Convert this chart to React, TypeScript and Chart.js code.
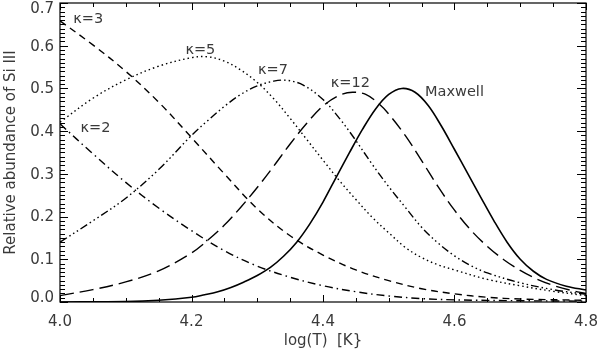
import React, { useEffect, useRef } from 'react';
import { Chart, registerables } from 'chart.js';

Chart.register(...registerables);

// ---- data (log T, relative abundance of Si III) ----
const kappa2X = [4.0, 4.05, 4.1, 4.15, 4.2, 4.25, 4.3, 4.35, 4.4, 4.45, 4.5, 4.55, 4.6, 4.7, 4.8];
const kappa2Y = [0.417, 0.347, 0.28, 0.22, 0.167, 0.12, 0.084, 0.058, 0.038, 0.024, 0.014, 0.008, 0.005, 0.003, 0.002];

const kappa3X = [4.0, 4.05, 4.1, 4.15, 4.2, 4.25, 4.3, 4.35, 4.4, 4.45, 4.5, 4.55, 4.6, 4.65, 4.7, 4.8];
const kappa3Y = [0.658, 0.602, 0.54, 0.468, 0.385, 0.3, 0.218, 0.155, 0.11, 0.075, 0.05, 0.031, 0.019, 0.011, 0.007, 0.004];

const kappa5X = [4.0, 4.05, 4.1, 4.15, 4.2, 4.225, 4.25, 4.275, 4.3, 4.325, 4.35, 4.375, 4.4, 4.425, 4.45, 4.475, 4.5, 4.525, 4.55, 4.575, 4.6, 4.65, 4.7, 4.75, 4.8];
const kappa5Y = [0.421, 0.477, 0.52, 0.552, 0.572, 0.574, 0.564, 0.543, 0.514, 0.476, 0.43, 0.381, 0.332, 0.284, 0.24, 0.198, 0.162, 0.128, 0.104, 0.087, 0.075, 0.053, 0.038, 0.025, 0.015];

const kappa7X = [4.0, 4.05, 4.1, 4.15, 4.2, 4.225, 4.25, 4.275, 4.3, 4.325, 4.345, 4.37, 4.4, 4.425, 4.45, 4.475, 4.5, 4.525, 4.55, 4.575, 4.6, 4.625, 4.65, 4.7, 4.75, 4.8];
const kappa7Y = [0.14, 0.19, 0.243, 0.31, 0.39, 0.425, 0.458, 0.486, 0.506, 0.517, 0.519, 0.508, 0.474, 0.43, 0.378, 0.322, 0.27, 0.222, 0.175, 0.138, 0.108, 0.085, 0.068, 0.045, 0.029, 0.018];

const kappa12X = [4.0, 4.05, 4.1, 4.15, 4.2, 4.225, 4.25, 4.275, 4.3, 4.325, 4.35, 4.375, 4.4, 4.425, 4.445, 4.465, 4.485, 4.5, 4.525, 4.55, 4.575, 4.6, 4.625, 4.65, 4.675, 4.7, 4.725, 4.75, 4.775, 4.8];
const kappa12Y = [0.015, 0.029, 0.047, 0.073, 0.115, 0.145, 0.18, 0.222, 0.268, 0.318, 0.37, 0.418, 0.459, 0.484, 0.491, 0.486, 0.464, 0.44, 0.39, 0.331, 0.27, 0.215, 0.168, 0.13, 0.099, 0.074, 0.054, 0.039, 0.028, 0.02];

const maxwellX = [4.0, 4.1, 4.15, 4.2, 4.22, 4.24, 4.26, 4.28, 4.3, 4.32, 4.34, 4.36, 4.38, 4.4, 4.42, 4.44, 4.46, 4.48, 4.5, 4.52, 4.54, 4.56, 4.58, 4.6, 4.62, 4.64, 4.66, 4.68, 4.7, 4.72, 4.74, 4.77, 4.8];
const maxwellY = [0.0, 0.001, 0.004, 0.011, 0.017, 0.024, 0.034, 0.047, 0.062, 0.081, 0.107, 0.14, 0.183, 0.234, 0.292, 0.349, 0.404, 0.452, 0.486, 0.5, 0.491, 0.46, 0.412, 0.357, 0.301, 0.245, 0.19, 0.14, 0.1, 0.072, 0.053, 0.037, 0.028];

// ---- curve labels (data coordinates) ----
const curveLabelText = ['κ=3', 'κ=2', 'κ=5', 'κ=7', 'κ=12', 'Maxwell'];
const curveLabelX = [4.043, 4.054, 4.2135, 4.324, 4.4415, 4.6];
const curveLabelY = [0.661, 0.407, 0.589, 0.542, 0.511, 0.492];

// ---- axes ----
const xMajorTicks = [4.0, 4.2, 4.4, 4.6, 4.8];
const xTickLabels = ['4.0', '4.2', '4.4', '4.6', '4.8'];
const yMajorTicks = [0.0, 0.1, 0.2, 0.3, 0.4, 0.5, 0.6, 0.7];
const yTickLabels = ['0.0', '0.1', '0.2', '0.3', '0.4', '0.5', '0.6', '0.7'];
const xMinorStep = 0.05;
const yMinorStep = 0.01;
const xTitle = 'log(T)  [K}';
const yTitle = 'Relative abundance of Si III';

const zip = (xs: number[], ys: number[]) => xs.map((x, i) => ({ x, y: ys[i] }));

const FONT = '"DejaVu Sans", sans-serif';
const TEXT = '#3a3a3a';

const axesPlugin = {
  id: 'idlAxes',
  afterDatasetsDraw(chart: any) {
    const { ctx, chartArea } = chart;
    const { left, right, top, bottom } = chartArea;
    const xs = chart.scales.x;
    const ys = chart.scales.y;
    ctx.save();
    // frame
    ctx.strokeStyle = '#000';
    ctx.lineWidth = 1.2;
    ctx.strokeRect(left, top, right - left, bottom - top);

    ctx.lineWidth = 1;
    ctx.beginPath();
    // x ticks (bottom + top)
    const nx = Math.round((xs.max - xs.min) / xMinorStep);
    for (let i = 0; i <= nx; i++) {
      const v = xs.min + i * xMinorStep;
      const px = Math.round(xs.getPixelForValue(v)) + 0.5;
      const major = xMajorTicks.some((t) => Math.abs(t - v) < 1e-6);
      const len = major ? 7 : 4;
      ctx.moveTo(px, bottom);
      ctx.lineTo(px, bottom - len);
      ctx.moveTo(px, top);
      ctx.lineTo(px, top + len);
    }
    // y ticks (left + right)
    const ny = Math.round((ys.max - ys.min) / yMinorStep);
    for (let i = 0; i <= ny; i++) {
      const v = ys.min + i * yMinorStep;
      const py = Math.round(ys.getPixelForValue(v)) + 0.5;
      const major = yMajorTicks.some((t) => Math.abs(t - v) < 1e-6);
      const lenL = major ? 8 : 5;
      const lenR = major ? 9 : 5;
      ctx.moveTo(left, py);
      ctx.lineTo(left + lenL, py);
      ctx.moveTo(right, py);
      ctx.lineTo(right - lenR, py);
    }
    ctx.stroke();

    // tick labels
    ctx.fillStyle = TEXT;
    ctx.font = `15px ${FONT}`;
    ctx.textAlign = 'center';
    ctx.textBaseline = 'middle';
    xMajorTicks.forEach((v, i) => {
      ctx.fillText(xTickLabels[i], xs.getPixelForValue(v), bottom + 20);
    });
    ctx.textAlign = 'right';
    yMajorTicks.forEach((v, i) => {
      let py = ys.getPixelForValue(v) + 1;
      py = Math.min(Math.max(py, top + 6.5), bottom - 3.5);
      ctx.fillText(yTickLabels[i], left - 6, py);
    });

    // axis titles
    ctx.textAlign = 'center';
    ctx.font = `15px ${FONT}`;
    ctx.fillText(xTitle, (left + right) / 2, bottom + 39);
    ctx.save();
    ctx.translate(11, (top + bottom) / 2);
    ctx.rotate(-Math.PI / 2);
    ctx.fillText(yTitle, 0, 0);
    ctx.restore();

    // curve labels
    ctx.font = `14.5px ${FONT}`;
    ctx.textAlign = 'center';
    curveLabelText.forEach((t, i) => {
      ctx.fillText(t, xs.getPixelForValue(curveLabelX[i]), ys.getPixelForValue(curveLabelY[i]));
    });
    ctx.restore();
  },
};

export default function App() {
  const ref = useRef<HTMLCanvasElement>(null);
  useEffect(() => {
    const canvas = ref.current;
    if (!canvas) return;
    const common = {
      borderColor: '#000',
      borderWidth: 1.4,
      pointRadius: 0,
      fill: false,
      tension: 0.35,
    };
    const chart = new Chart(canvas, {
      type: 'line',
      data: {
        datasets: [
          { ...common, label: 'κ=2', data: zip(kappa2X, kappa2Y), borderDash: [8, 4, 1.5, 4] },
          { ...common, label: 'κ=3', data: zip(kappa3X, kappa3Y), borderDash: [7, 5] },
          { ...common, label: 'κ=5', data: zip(kappa5X, kappa5Y), borderDash: [1.5, 3] },
          { ...common, label: 'κ=7', data: zip(kappa7X, kappa7Y), borderDash: [8, 3, 1.5, 3, 1.5, 3, 1.5, 3] },
          { ...common, label: 'κ=12', data: zip(kappa12X, kappa12Y), borderDash: [14, 6] },
          { ...common, label: 'Maxwell', data: zip(maxwellX, maxwellY), borderWidth: 1.6 },
        ],
      },
      options: {
        animation: false,
        responsive: false,
        devicePixelRatio: 1,
        layout: { padding: { left: 60, right: 14, top: 3, bottom: 50 } },
        plugins: { legend: { display: false }, tooltip: { enabled: false } },
        scales: {
          x: { type: 'linear', min: 4.0, max: 4.8, display: false },
          y: { type: 'linear', min: 0, max: 0.7, display: false },
        },
      },
      plugins: [axesPlugin],
    });
    return () => chart.destroy();
  }, []);
  return (
    <div style={{ position: 'fixed', left: 0, top: 0, width: 600, height: 352, background: '#fff' }}>
      <canvas ref={ref} width={600} height={352} style={{ width: 600, height: 352 }} />
    </div>
  );
}
